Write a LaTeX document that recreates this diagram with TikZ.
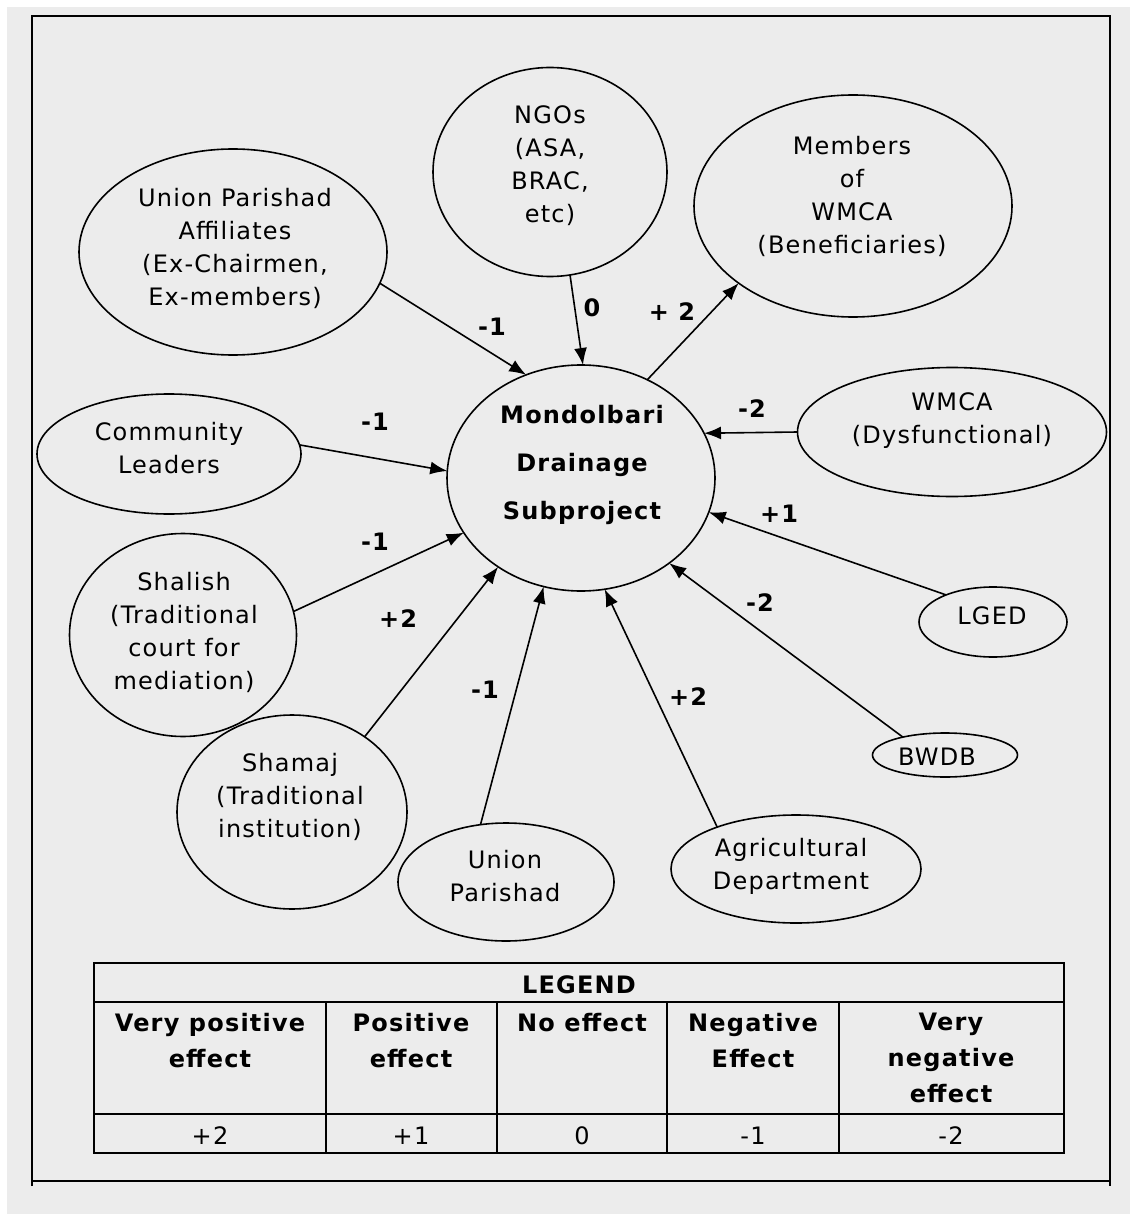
\documentclass[tikz,border=0pt]{standalone}
\usepackage{fontspec}
\setmainfont{DejaVu Sans}[LetterSpace=5]
\usetikzlibrary{arrows.meta,shapes.geometric}
\definecolor{bgc}{RGB}{236,236,236}
\begin{document}
\begin{tikzpicture}[x=1pt,y=-1pt,
  ell/.style={draw, ellipse, line width=1.6pt, inner sep=0pt, outer sep=0pt},
  txt/.style={align=center, inner sep=0pt, font=\fontsize{24}{33}\selectfont},
  lbl/.style={inner sep=0pt, font=\fontsize{24}{30}\selectfont\bfseries},
  arr/.style={line width=1.6pt, -{Latex[length=17pt,width=13pt]}},
  hdr/.style={align=center, anchor=north, inner sep=0pt, font=\fontsize{24}{36}\selectfont\bfseries},
  val/.style={inner sep=0pt, font=\fontsize{24}{30}\selectfont},
  tbl/.style={line width=1.6pt}
]
\useasboundingbox (0,0) rectangle (1130,1214);
\fill[white] (0,0) rectangle (1130,1214);
\fill[bgc] (7,7) rectangle (1130,1214);
% frame
\draw[line width=2pt] (32,1186) -- (32,16) -- (1110,16) -- (1110,1186);
\draw[line width=2pt] (32,1181) -- (1110,1181);

% nodes
\node[ell, minimum width=268pt, minimum height=226pt] (ctr) at (581,478) {};
\node[txt, font=\fontsize{24}{48}\selectfont\bfseries] (ctrt) at (582,465) {Mondolbari\\Drainage\\Subproject};

\node[ell, minimum width=308pt, minimum height=206pt] (upa) at (233,252) {};
\node[txt] (upat) at (235,248) {Union Parishad\\Affiliates\\(Ex-Chairmen,\\Ex-members)};

\node[ell, minimum width=234pt, minimum height=209pt] (ngo) at (550,172) {};
\node[txt] (ngot) at (550,166) {NGOs\\(ASA,\\BRAC,\\etc)};

\node[ell, minimum width=318pt, minimum height=222pt] (mem) at (853,206) {};
\node[txt] (memt) at (852,196) {Members\\of\\WMCA\\(Beneficiaries)};

\node[ell, minimum width=309pt, minimum height=129pt] (wmd) at (952,432) {};
\node[txt] (wmdt) at (952,421) {WMCA\\(Dysfunctional)};

\node[ell, minimum width=264pt, minimum height=120pt] (com) at (169,454) {};
\node[txt] (comt) at (169,448) {Community\\Leaders};

\node[ell, minimum width=227pt, minimum height=203pt] (sha) at (183,635) {};
\node[txt] (shat) at (184,632) {Shalish\\(Traditional\\court for\\mediation)};

\node[ell, minimum width=148pt, minimum height=70pt] (lged) at (993,622) {};
\node[txt] (lgedt) at (992,616) {LGED};

\node[ell, minimum width=145pt, minimum height=44pt] (bwdb) at (945,755) {};
\node[txt] (bwdbt) at (937,757) {BWDB};

\node[ell, minimum width=230pt, minimum height=194pt] (sham) at (292,812) {};
\node[txt] (shamt) at (290,797) {Shamaj\\(Traditional\\institution)};

\node[ell, minimum width=216pt, minimum height=118pt] (up) at (506,882) {};
\node[txt] (upt) at (505,876) {Union\\Parishad};

\node[ell, minimum width=250pt, minimum height=108pt] (agri) at (796,869) {};
\node[txt] (agrit) at (791,866) {Agricultural\\Department};

% connectors
\draw[arr] (upa.-12.5) -- (ctr.118.5);
\draw[arr] (ngo.-79) -- (ctr.89);
\draw[arr] (ctr.56.6) -- (mem.214.4);
\draw[arr] (wmd.180) -- (ctr.20.8);
\draw[arr] (lged.150.5) -- (ctr.-15.2);
\draw[arr] (bwdb.157) -- (ctr.-44.4);
\draw[arr] (agri.152) -- (ctr.-78.9);
\draw[arr] (up.114.5) -- (ctr.-109);
\draw[arr] (sham.46.9) -- (ctr.-133.7);
\draw[arr] (sha.12.6) -- (ctr.205.6);
\draw[arr] (com.4.8) -- (ctr.177);

% edge labels
\node[lbl] (l1) at (492,327) {-1};
\node[lbl] (l2) at (592,308) {0};
\node[lbl] (l3) at (672,312) {+ 2};
\node[lbl] (l4) at (752,409) {-2};
\node[lbl] (l5) at (779,514) {+1};
\node[lbl] (l6) at (760,603) {-2};
\node[lbl] (l7) at (688,697) {+2};
\node[lbl] (l8) at (485,690) {-1};
\node[lbl] (l9) at (398,619) {+2};
\node[lbl] (l10) at (375,542) {-1};
\node[lbl] (l11) at (375,422) {-1};

% legend table
\draw[tbl] (94,963) rectangle (1064,1153);
\draw[tbl] (94,1002) -- (1064,1002);
\draw[tbl] (94,1114) -- (1064,1114);
\foreach \cx in {326,497,667,839} \draw[tbl] (\cx,1002) -- (\cx,1153);
\node[lbl] (lg) at (579,985) {LEGEND};
\node[hdr] (h1) at (210,1013) {Very positive\\effect};
\node[hdr] (h2) at (411,1013) {Positive\\effect};
\node[hdr] (h3) at (582,1013) {No effect};
\node[hdr] (h4) at (753,1013) {Negative\\Effect};
\node[hdr] (h5) at (951,1013) {Very\\negative\\effect};
\node[val] (v1) at (210,1136) {+2};
\node[val] (v2) at (411,1136) {+1};
\node[val] (v3) at (582,1136) {0};
\node[val] (v4) at (753,1136) {-1};
\node[val] (v5) at (951,1136) {-2};
\end{tikzpicture}
\end{document}
